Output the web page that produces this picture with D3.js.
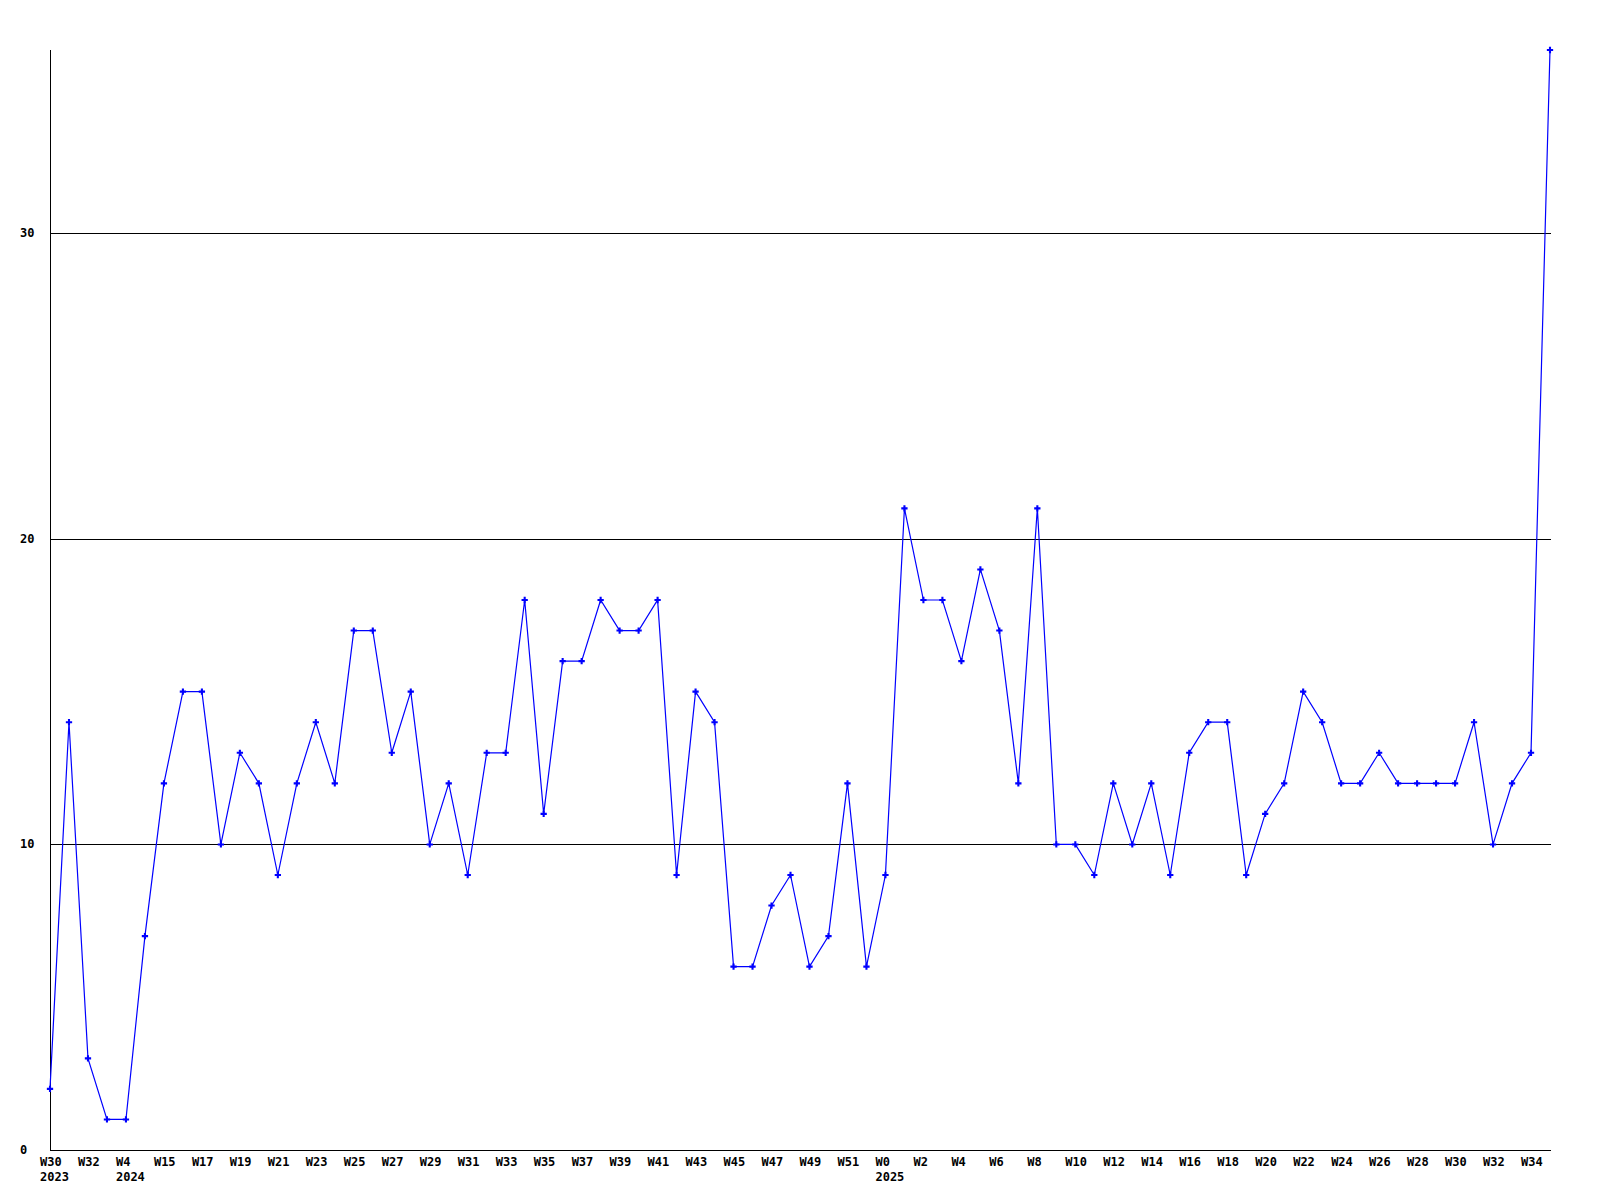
<!DOCTYPE html>
<html>
<head>
<meta charset="utf-8">
<script src="https://cdn.jsdelivr.net/npm/d3@7"></script>
<style>
  html, body { margin: 0; padding: 0; background: #fff; }
  svg { display: block; }
  text { font-family: "DejaVu Sans Mono", "Liberation Mono", monospace; font-weight: bold; font-size: 12px; fill: #000; }
</style>
</head>
<body>
<svg id="chart" width="1600" height="1200"></svg>
<script>
// ---- data ----
const years = [2023, 2023, 2023, 2023,
  2024, 2024,
  2024, 2024, 2024, 2024, 2024, 2024, 2024, 2024, 2024, 2024,
  2024, 2024, 2024, 2024, 2024, 2024, 2024, 2024, 2024, 2024,
  2024, 2024, 2024, 2024, 2024, 2024, 2024, 2024, 2024, 2024,
  2024, 2024, 2024, 2024, 2024, 2024, 2024, 2024,
  2025, 2025, 2025, 2025, 2025, 2025, 2025, 2025, 2025, 2025,
  2025, 2025, 2025, 2025, 2025, 2025, 2025, 2025, 2025, 2025,
  2025, 2025, 2025, 2025, 2025, 2025, 2025, 2025, 2025, 2025,
  2025, 2025, 2025, 2025, 2025, 2025];
const weeks = [30, 31, 32, 33,
  4, 14,
  15, 16, 17, 18, 19, 20, 21, 22, 23, 24,
  25, 26, 27, 28, 29, 30, 31, 32, 33, 34,
  35, 36, 37, 38, 39, 40, 41, 42, 43, 44,
  45, 46, 47, 48, 49, 50, 51, 52,
  0, 1, 2, 3, 4, 5, 6, 7, 8, 9,
  10, 11, 12, 13, 14, 15, 16, 17, 18, 19,
  20, 21, 22, 23, 24, 25, 26, 27, 28, 29,
  30, 31, 32, 33, 34, 35];
const values = [2, 14, 3, 1,
  1, 7,
  12, 15, 15, 10, 13, 12, 9, 12, 14, 12,
  17, 17, 13, 15, 10, 12, 9, 13, 13, 18,
  11, 16, 16, 18, 17, 17, 18, 9, 15, 14,
  6, 6, 8, 9, 6, 7, 12, 6,
  9, 21, 18, 18, 16, 19, 17, 12, 21, 10,
  10, 9, 12, 10, 12, 9, 13, 14, 14, 9,
  11, 12, 15, 14, 12, 12, 13, 12, 12, 12,
  12, 14, 10, 12, 13, 36];
const yTicks = [0, 10, 20, 30];
const gridValues = [10, 20, 30];
const yMax = 36;

// ---- layout ----
const mLeft = 50, mRight = 1551, mTop = 50, mBottom = 1150;
const svg = d3.select("#chart");

const idx = values.map((d, i) => i);
const x = d3.scalePoint().domain(idx).range([mLeft, 1550]);
const y = d3.scaleLinear().domain([0, yMax]).range([mBottom, mTop]);

// gridlines
svg.append("g").selectAll("line").data(gridValues).join("line")
  .attr("x1", mLeft).attr("x2", mRight)
  .attr("y1", d => Math.round(y(d)) + 0.5).attr("y2", d => Math.round(y(d)) + 0.5)
  .attr("stroke", "#000").attr("stroke-width", 1).attr("shape-rendering", "crispEdges");

// axes lines
svg.append("line").attr("x1", mLeft + 0.5).attr("x2", mLeft + 0.5).attr("y1", mTop).attr("y2", mBottom + 1)
  .attr("stroke", "#000").attr("shape-rendering", "crispEdges");
svg.append("line").attr("x1", mLeft).attr("x2", mRight).attr("y1", mBottom + 0.5).attr("y2", mBottom + 0.5)
  .attr("stroke", "#000").attr("shape-rendering", "crispEdges");

// y labels
svg.append("g").selectAll("text").data(yTicks).join("text")
  .attr("x", 20).attr("y", d => y(d) + 4)
  .text(d => d);

// x labels every 2nd point
const labIdx = idx.filter(i => i % 2 === 0);
svg.append("g").selectAll("text").data(labIdx).join("text")
  .attr("x", i => x(i) - 10).attr("y", mBottom + 16)
  .text(i => "W" + weeks[i]);

// year labels on first label of each year
const yearIdx = labIdx.filter((i, k) => k === 0 || years[i] !== years[labIdx[k - 1]]);
svg.append("g").selectAll("text").data(yearIdx).join("text")
  .attr("x", i => x(i) - 10).attr("y", mBottom + 31)
  .text(i => years[i]);

// line
const line = d3.line().x((d, i) => x(i)).y(d => y(d));
svg.append("path").datum(values)
  .attr("d", line).attr("fill", "none").attr("stroke", "#0000ff").attr("stroke-width", 1.2);

// markers
const sym = d3.symbol().type(d3.symbolCross).size(22);
svg.append("g").selectAll("path").data(values).join("path")
  .attr("transform", (d, i) => `translate(${x(i)},${y(d)})`)
  .attr("d", sym).attr("fill", "#0000ff");
</script>
</body>
</html>
